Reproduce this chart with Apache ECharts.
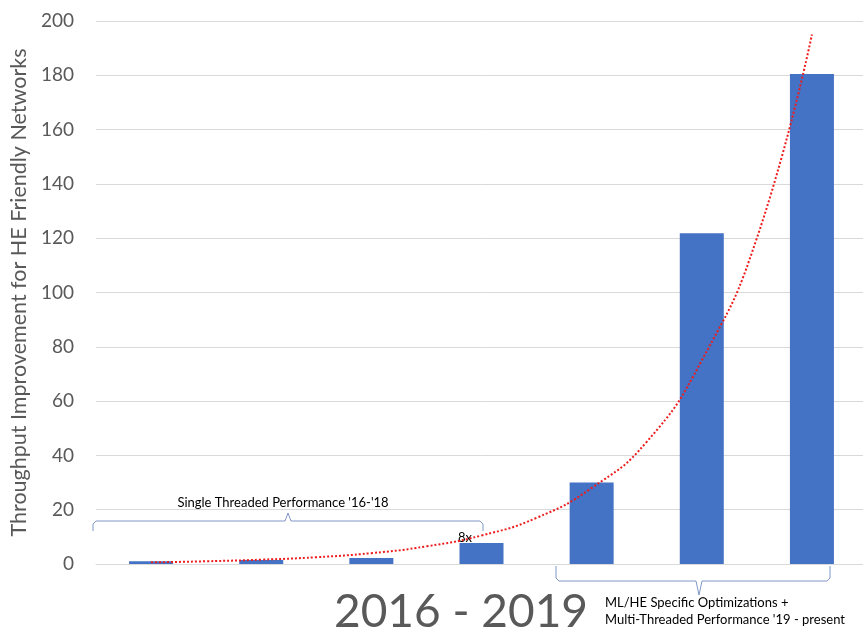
<!DOCTYPE html>
<html>
<head>
<meta charset="utf-8">
<script src="https://cdn.jsdelivr.net/npm/echarts@6/dist/echarts.min.js"></script>
<style>html,body{margin:0;padding:0;background:#fff;overflow:hidden}#c{width:870px;height:632px}</style>
</head>
<body>
<div id="c"></div>
<script>
const categories = ['1', '2', '3', '4', '5', '6', '7'];
const barValues = [1.0, 1.5, 2.2, 7.7, 30, 121.8, 180.5];
const trendX = [1, 1.5, 2, 2.5, 3, 3.5, 4, 4.5, 5, 5.5, 6, 6.5, 7];
const trendY = [0.6, 1.0, 1.6, 2.5, 4.0, 6.5, 10.5, 17, 28, 45, 75, 120, 195];
const yTicks = { min: 0, max: 200, interval: 20 };
const yTitle = 'Throughput Improvement for HE Friendly Networks';
const leftNote = "Single Threaded Performance '16-'18";
const rightNote = "ML/HE Specific Optimizations +\nMulti-Threaded Performance '19 - present";
const barNote = '8x';
const bigLabel = '2016 - 2019';

const FONT = 'Lato, "Open Sans", sans-serif';
const chart = echarts.init(document.getElementById('c'), null, { renderer: 'canvas' });
const bracketColor = '#8096c8';

chart.setOption({
  animation: false,
  textStyle: { fontFamily: FONT },
  grid: { left: 96, top: 21, width: 771, height: 543, containLabel: false },
  xAxis: [
    { type: 'category', data: categories, axisLine: { show: true, lineStyle: { color: '#d9d9d9', width: 1 } },
      axisTick: { show: false }, axisLabel: { show: false } },
    { type: 'value', min: 0.5, max: 7.5, show: false }
  ],
  yAxis: {
    type: 'value', min: yTicks.min, max: yTicks.max, interval: yTicks.interval,
    name: yTitle, nameLocation: 'middle', nameGap: 63, nameRotate: 90,
    nameTextStyle: { color: '#595959', fontSize: 21.5, fontFamily: FONT },
    axisLine: { show: false }, axisTick: { show: false },
    axisLabel: { color: '#595959', fontSize: 19, margin: 22, fontFamily: FONT },
    splitLine: { lineStyle: { color: '#d9d9d9', width: 1 } }
  },
  series: [
    { type: 'bar', data: barValues, barWidth: 44, itemStyle: { color: '#4472c4' }, z: 2 },
    { type: 'line', xAxisIndex: 1, data: trendX.map((x, i) => [x, trendY[i]]), smooth: true,
      symbol: 'none', lineStyle: { color: '#ee1c1c', width: 2, type: [2, 2] }, z: 3 }
  ],
  graphic: [
    { type: 'polyline', shape: { points: [[93,531],[93,524],[96,521],[285,521],[288,513],[291,521],[480,521],[483,524],[483,531]] },
      style: { fill: null, stroke: bracketColor, lineWidth: 1 } },
    { type: 'text', x: 283, y: 503, style: { text: leftNote, font: '13px ' + FONT, fill: '#000', align: 'center', verticalAlign: 'middle' } },
    { type: 'polyline', shape: { points: [[556,566],[556,578],[559,581],[696,581],[699,595],[702,581],[827,581],[830,578],[830,566]] },
      style: { fill: null, stroke: bracketColor, lineWidth: 1 } },
    { type: 'text', x: 605, y: 611, style: { text: rightNote, font: '13px ' + FONT, fill: '#000', align: 'left', verticalAlign: 'middle', lineHeight: 17 } },
    { type: 'text', x: 465, y: 538, style: { text: barNote, font: '13px ' + FONT, fill: '#000', align: 'center', verticalAlign: 'middle' } },
    { type: 'text', x: 461, y: 612, style: { text: bigLabel, font: '46px ' + FONT, fill: '#595959', align: 'center', verticalAlign: 'middle' } }
  ]
});
</script>
</body>
</html>
